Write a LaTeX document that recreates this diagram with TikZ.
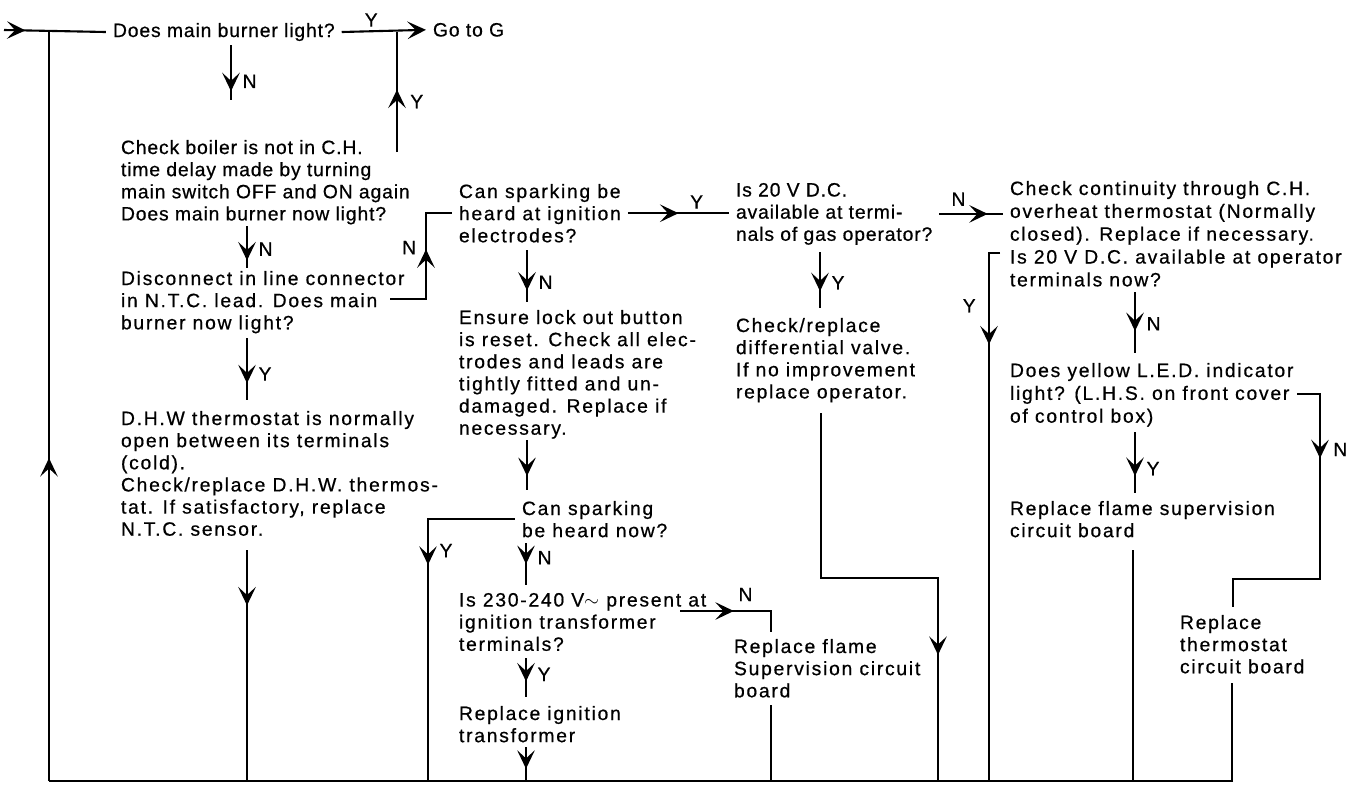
\documentclass[tikz,border=0pt]{standalone}
\usepackage{fontspec}
\setmainfont{Liberation Sans}[LetterSpace=9, FakeBold=0.6]
\usetikzlibrary{arrows.meta,decorations.markings}
\newcommand\chartfont{\fontsize{11}{12.6}\selectfont}
\newcommand\tightfont{\addfontfeature{LetterSpace=4.5}}
\tikzset{
  box/.style={anchor=north west, inner sep=0pt, outer sep=4pt, xshift=-4pt, yshift=4pt,
    align=left, font=\chartfont},
  lbl/.style={font=\chartfont\tightfont, inner sep=2pt},
  line/.style={draw, line width=1.2pt},
  midarrow/.style={postaction={decorate, decoration={markings, mark=at position #1 with {\arrow{>}}}}}
}

\begin{document}
\begin{tikzpicture}[x=0.02cm, y=-0.02cm, >={Stealth[length=10.5pt,width=10pt,inset=4.6pt]}]
  \useasboundingbox (0,0) rectangle (1356,785);

  % left column
  \node[box, font=\chartfont\tightfont] (q1) at (113,23) {Does main burner light?};
  \node[box, font=\chartfont\tightfont] (goto) at (433,23) {Go to G};
  \node[box, font=\chartfont\tightfont] (b2) at (121,140) {Check boiler is not in C.H.\\time delay made by turning\\main switch OFF and ON again\\Does main burner now light?};
  \node[box] (b3) at (121,271) {Disconnect in line connector\\in N.T.C. lead. Does main\\burner now light?};
  \node[box] (b4) at (121,411) {D.H.W thermostat is normally\\open between its terminals\\(cold).\\Check/replace D.H.W. thermos-\\tat. If satisfactory, replace\\N.T.C. sensor.};

  % ignition column
  \node[box] (m1) at (459,184) {Can sparking be\\heard at ignition\\electrodes?};
  \node[box] (m2) at (459,310) {Ensure lock out button\\is reset. Check all elec-\\trodes and leads are\\tightly fitted and un-\\damaged. Replace if\\necessary.};
  \node[box] (m3) at (522,501) {Can sparking\\be heard now?};
  \node[box] (m4) at (459,593) {Is 230-240 V$\sim$\ present at\\ignition transformer\\terminals?};
  \node[box] (m5) at (459,706) {Replace ignition\\transformer};
  \node[box] (m6) at (734,639) {Replace flame\\Supervision circuit\\board};

  % gas operator column
  \node[box, font=\chartfont\tightfont] (g1) at (736,183) {Is 20 V D.C.\\available at termi-\\nals of gas operator?};
  \node[box] (g2) at (736,318) {Check/replace\\differential valve.\\If no improvement\\replace operator.};

  % overheat column
  \node[box, font=\fontsize{11}{13}\selectfont] (r1) at (1010,181) {Check continuity through C.H.\\overheat thermostat (Normally\\closed). Replace if necessary.\\Is 20 V D.C. available at operator\\terminals now?};
  \node[box, font=\fontsize{11}{13}\selectfont] (r2) at (1010,363) {Does yellow L.E.D. indicator\\light? (L.H.S. on front cover\\of control box)};
  \node[box] (r3) at (1010,501) {Replace flame supervision\\circuit board};
  \node[box] (r4) at (1180,615) {Replace\\thermostat\\circuit board};

  % free ends
  \coordinate (in) at (4,30);
  \coordinate (bl) at (49,781);
  \coordinate (br) at (1233,781);
  \coordinate (j1) at (397,152);
  \coordinate (b3n) at (390,299);
  \coordinate (m4n) at (680,611);
  \coordinate (n4) at (771,632);
  \coordinate (g2b) at (821,413);
  \coordinate (g2c) at (938,578);
  \coordinate (r1y) at (1000,253);
  \coordinate (r1z) at (989,781);
  \coordinate (r2n) at (1297,394);
  \coordinate (r2m) at (1320,579);
  \coordinate (r4n) at (1233,607);

  % return loop
  \draw[line, midarrow=.21] (in) -- (q1.west);
  \draw[line] (br) -- (bl);
  \draw[line, midarrow=.43] (bl) -- (bl |- in);

  % top
  \draw[line, ->] (q1.east) -- node[lbl, above, pos=.35]{Y} (goto.west);
  \draw[line, midarrow=.52] (j1) -- (j1 |- q1.east) node[lbl, pos=.42, right=5pt]{Y};
  \draw[line, midarrow=.84] (231,45) -- (231,100) node[lbl, pos=.66, right=4pt]{N};
  \draw[line, midarrow=.82] (247,226) -- (247,268) node[lbl, pos=.55, right=4pt]{N};
  \draw[line, midarrow=.73] (247,338) -- (247,400) node[lbl, pos=.58, right=4pt]{Y};
  \draw[line, midarrow=.24] (247,550) -- (247,781);
  \draw[line, midarrow=.58] (b3n) -- ++(36,0) |- (m1.west) node[lbl, pos=.3, left=3pt]{N};

  % ignition
  \draw[line, midarrow=.5] (m1.east) -- (m1.east -| g1.west) node[lbl, pos=.68, above]{Y};
  \draw[line, midarrow=.78] (527,250) -- (527,302) node[lbl, pos=.62, right=4pt]{N};
  \draw[line, midarrow=.72] (527,440) -- (527,490);
  \draw[line, midarrow=.38] (m3.west) -| (428,781) node[lbl, pos=.56, right=4pt]{Y};
  \draw[line, midarrow=.5] (526,543) -- (526,585) node[lbl, pos=.35, right=4pt]{N};
  \draw[line, midarrow=.48] (m4n) -| (n4) node[lbl, pos=.36, above=3pt]{N};
  \draw[line, midarrow=.6] (526,658) -- (526,697) node[lbl, pos=.42, right=4pt]{Y};
  \draw[line, midarrow=.64] (526,747) -- (526,781);
  \draw[line] (771,705) -- (771,781);

  % gas operator
  \draw[line, midarrow=.7] (820,252) -- (820,308) node[lbl, pos=.55, right=4pt]{Y};
  \draw[line, midarrow=.76] (g1.east) -- (g1.east -| r1.west) node[lbl, pos=.3, above=2pt]{N};
  \draw[line, midarrow=.74] (g2b) |- (g2c) -- (g2c |- bl);

  % overheat
  \draw[line, midarrow=.19] (r1y) -| (r1z) node[lbl, pos=.55, left=5pt]{Y};
  \draw[line, midarrow=.64] (1135,292) -- (1135,353) node[lbl, pos=.52, right=4pt]{N};
  \draw[line, midarrow=.72] (1135,432) -- (1135,493) node[lbl, pos=.6, right=4pt]{Y};
  \draw[line, midarrow=.27] (r2n) -| (r2m) node[lbl, pos=.65, right=5pt]{N} -| (r4n);
  \draw[line] (1133,550) -- (1133,781);
  \draw[line] (1232,683) -- (1232,781);
\end{tikzpicture}
\end{document}
